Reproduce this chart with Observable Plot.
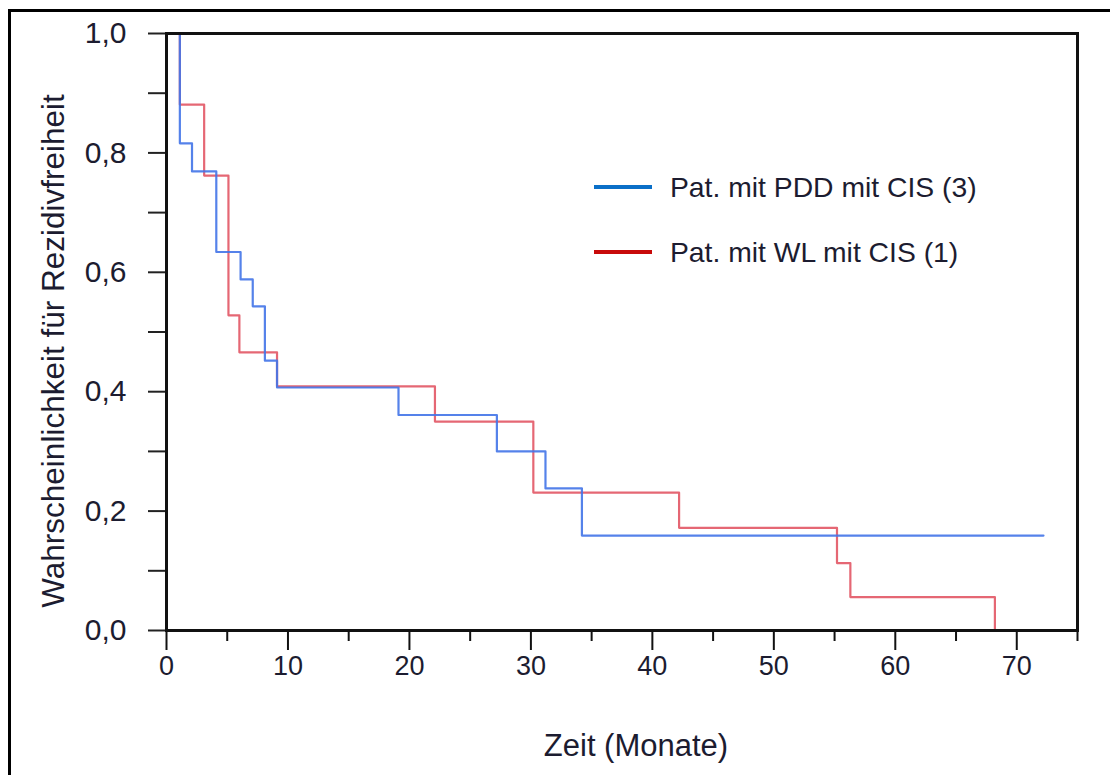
<!DOCTYPE html>
<html>
<head>
<meta charset="utf-8">
<script src="https://cdn.jsdelivr.net/npm/d3@7"></script>
<script src="https://cdn.jsdelivr.net/npm/@observablehq/plot@0.6"></script>
<style>
  html, body { margin: 0; padding: 0; background: #fff; }
  svg { display: block; }
</style>
</head>
<body>
<div id="chart"></div>
<script>
// Kaplan-Meier step data (time in months, recurrence-free probability)
const blueTime = [1.1, 1.1, 2.1, 4.1, 6.1, 7.1, 8.1, 9.1, 19.1, 27.2, 31.2, 34.2, 72.2];
const blueSurv = [1.0, 0.816, 0.769, 0.634, 0.588, 0.543, 0.452, 0.407, 0.361, 0.300, 0.238, 0.159, 0.159];
const redTime  = [1.1, 1.1, 3.1, 5.1, 6.0, 9.1, 22.1, 30.2, 42.2, 55.2, 56.3, 68.2, 68.2];
const redSurv  = [1.0, 0.881, 0.762, 0.528, 0.466, 0.409, 0.350, 0.231, 0.172, 0.113, 0.056, 0.056, 0.0];

const seriesNames = ["Pat. mit PDD mit CIS (3)", "Pat. mit WL mit CIS (1)"];
const lineColors = ["#4274e8", "#e04c5c"];
const legendColors = ["#0a6fc8", "#c80a0a"];

const xMajorTicks = [0, 10, 20, 30, 40, 50, 60, 70];
const xMinorTicks = [5, 15, 25, 35, 45, 55, 65, 75];
const yMajorTicks = [0, 0.2, 0.4, 0.6, 0.8, 1.0];
const yMinorTicks = [0.1, 0.3, 0.5, 0.7, 0.9];

const xLabel = "Zeit (Monate)";
const yLabel = "Wahrscheinlichkeit für Rezidivfreiheit";

const blueData = blueTime.map((t, i) => ({t, s: blueSurv[i]}));
const redData = redTime.map((t, i) => ({t, s: redSurv[i]}));

const fmt = d => d.toFixed(1).replace(".", ",");
const W = 1110, H = 775;
const mL = 166, mR = 33, mT = 33, mB = 145;
const FONT = "'Liberation Sans', Arial, sans-serif";
const TXT = "#1c1c30";

const plot = Plot.plot({
  width: W,
  height: H,
  marginLeft: mL,
  marginRight: mR,
  marginTop: mT,
  marginBottom: mB,
  style: {fontFamily: FONT, fontSize: "27px", color: TXT, background: "#fff"},
  x: {domain: [0, 75]},
  y: {domain: [0, 1]},
  marks: [
    Plot.axisX(xMinorTicks, {tickSize: 11, label: null, stroke: "#111", strokeWidth: 2, text: null}),
    Plot.axisX(xMajorTicks, {tickSize: 20, tickPadding: 5, tickFormat: d => String(d), label: null, stroke: "#111", strokeWidth: 2, fontSize: 27}),
    Plot.axisY(yMinorTicks, {tickSize: 18, label: null, stroke: "#222", strokeWidth: 2, text: null}),
    Plot.axisY(yMajorTicks, {tickSize: 18, tickPadding: 22, tickFormat: fmt, label: null, stroke: "#222", strokeWidth: 2, fontSize: 30}),
    Plot.line(redData, {x: "t", y: "s", curve: "step-after", stroke: lineColors[1], strokeWidth: 2.2, strokeOpacity: 0.85}),
    Plot.line(blueData, {x: "t", y: "s", curve: "step-after", stroke: lineColors[0], strokeWidth: 2.2, strokeOpacity: 0.9}),
    Plot.frame({stroke: "#111", strokeWidth: 3})
  ]
});

const svg = d3.select(plot);
// outer border (left and top)
svg.append("line").attr("x1", 9.5).attr("x2", 9.5).attr("y1", 9).attr("y2", H).attr("stroke", "#000").attr("stroke-width", 3);
svg.append("line").attr("x1", 8).attr("x2", W).attr("y1", 10.5).attr("y2", 10.5).attr("stroke", "#000").attr("stroke-width", 3);

function addText(sel) {
  return sel.append("text")
    .style("font-family", FONT)
    .style("fill", TXT);
}

// axis titles
addText(svg)
  .attr("transform", "translate(64,351) rotate(-90)")
  .style("text-anchor", "middle")
  .style("font-size", "31.5px")
  .text(yLabel);
addText(svg)
  .attr("x", 636).attr("y", 756)
  .style("text-anchor", "middle")
  .style("font-size", "31px")
  .text(xLabel);

// legend
const legendY = [187, 252];
seriesNames.forEach((name, i) => {
  svg.append("line")
    .attr("x1", 594).attr("x2", 652)
    .attr("y1", legendY[i]).attr("y2", legendY[i])
    .attr("stroke", legendColors[i]).attr("stroke-width", 4);
  addText(svg)
    .attr("x", 670).attr("y", legendY[i] + 10)
    .style("text-anchor", "start")
    .style("font-size", "28.3px")
    .text(name);
});

document.getElementById("chart").appendChild(plot);
</script>
</body>
</html>
